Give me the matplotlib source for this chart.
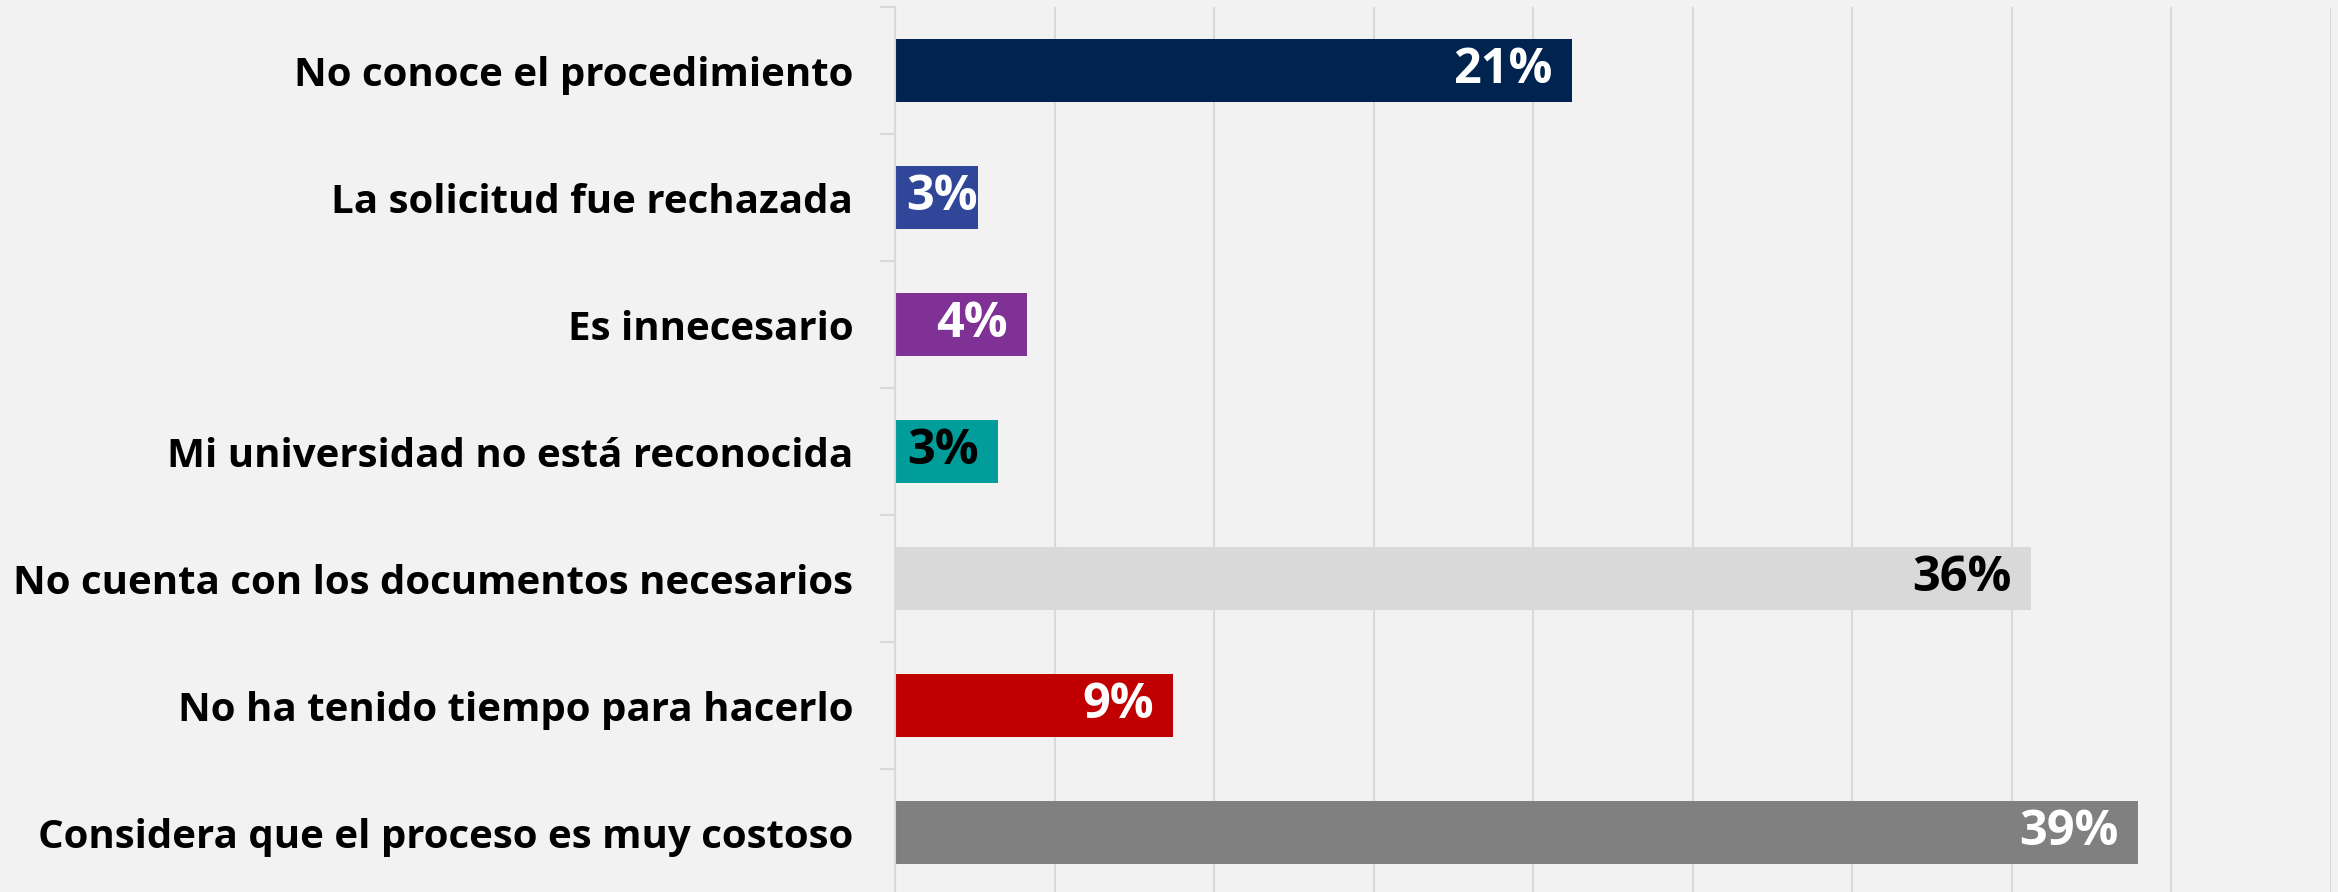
import matplotlib
matplotlib.use("Agg")
import matplotlib.pyplot as plt
from matplotlib.ticker import MultipleLocator, FixedLocator

categories = [
    "No conoce el procedimiento",
    "La solicitud fue rechazada",
    "Es innecesario",
    "Mi universidad no está reconocida",
    "No cuenta con los documentos necesarios",
    "No ha tenido tiempo para hacerlo",
    "Considera que el proceso es muy costoso",
]
values = [21.2, 2.6, 4.14, 3.23, 35.6, 8.7, 38.94]
value_labels = ["21%", "3%", "4%", "3%", "36%", "9%", "39%"]
bar_colors = ["#002350", "#2F4699", "#7F3196", "#009D9A", "#D9D9D9", "#C00000", "#808080"]
label_colors = ["white", "white", "white", "black", "black", "white", "white"]

W, H, DPI = 2338, 892, 100
BG = "#F2F2F2"
GRID = "#D9D9D9"
FONT = ["Open Sans", "DejaVu Sans"]

fig = plt.figure(figsize=(W / DPI, H / DPI), dpi=DPI, facecolor=BG)
ax = fig.add_axes([895 / W, -4 / H, (2331 - 895) / W, (896 - 7) / H])
ax.set_facecolor(BG)

n = len(categories)
ypos = list(range(n))
ax.barh(ypos, values, height=0.5, color=bar_colors, zorder=3)
ax.set_xlim(0, 45)
ax.set_ylim(n - 0.5, -0.5)

ax.xaxis.set_major_locator(MultipleLocator(5))
ax.grid(axis="x", color=GRID, linewidth=1.5, zorder=0)
ax.tick_params(axis="x", which="both", length=0, labelbottom=False)

for s in ["top", "right", "bottom"]:
    ax.spines[s].set_visible(False)
ax.spines["left"].set_color(GRID)
ax.spines["left"].set_linewidth(1.5)
ax.spines["left"].set_zorder(4)

ax.set_yticks(ypos)
ax.set_yticklabels(categories, fontsize=29, fontweight="bold", family=FONT, color="black")
ax.yaxis.set_minor_locator(FixedLocator([i - 0.5 for i in range(n + 1)]))
ax.tick_params(axis="y", which="major", length=0, pad=30)
ax.tick_params(axis="y", which="minor", length=11, width=1.5, color=GRID)

fig.canvas.draw()
renderer = fig.canvas.get_renderer()
pad_px = 19
for y, v, lab, c in zip(ypos, values, value_labels, label_colors):
    t = ax.text(0, y, lab, fontsize=35, fontweight="bold", family=FONT, color=c,
                va="center", ha="right", zorder=5)
    tw = t.get_window_extent(renderer).width
    x0_px = ax.transData.transform((0, y))[0]
    xe_px = ax.transData.transform((v, y))[0]
    if xe_px - pad_px - tw < x0_px:
        # too narrow: push the label to the bar end with no inner padding
        xr = xe_px
    else:
        xr = xe_px - pad_px
    t.set_x(ax.transData.inverted().transform((xr, 0))[0])

fig.savefig("out.png", dpi=DPI, facecolor=BG)
